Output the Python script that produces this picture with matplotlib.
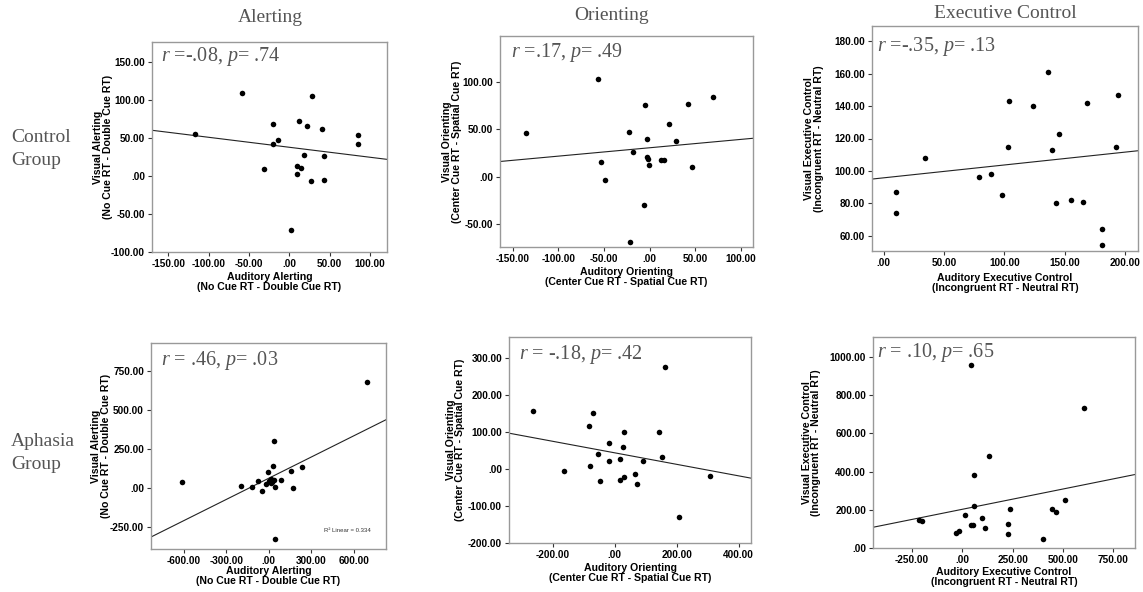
"""
Auditory vs visual ANT scores, control and aphasia groups (2 x 3 scatter grid).
Output: out.png
"""
import matplotlib
matplotlib.use("Agg")
import matplotlib.pyplot as plt
import numpy as np
from matplotlib.ticker import FuncFormatter

plt.rcParams["mathtext.fontset"] = "custom"
plt.rcParams["mathtext.rm"] = "Liberation Serif"
plt.rcParams["mathtext.it"] = "Liberation Serif:italic"

W, H = 1143, 592

# ── Data ──────────────────────────────────────────────────────────────────────
ctrl_alert_x = [-117, -59, -20, -14, -20, -31, 12, 28, 22, 40, 18, 43, 10, 15, 10, 27, 43, 85, 85, 2]
ctrl_alert_y = [55, 110, 69, 48, 42, 9, 73, 105, 66, 62, 28, 27, 13, 10, 2, -7, -5, 54, 42, -71]

ctrl_orient_x = [-57, -136, -23, -18, -53, -49, -5, -3, -3, -2, -1, -6, -21, 21, 29, 13, 16, 42, 47, 70]
ctrl_orient_y = [103, 46, 47, 26, 15, -4, 75, 40, 21, 19, 12, -30, -69, 55, 38, 18, 18, 76, 10, 84]

ctrl_exec_x = [10, 10, 34, 79, 89, 98, 104, 103, 124, 136, 139, 145, 143, 155, 165, 168, 181, 181, 192, 194]
ctrl_exec_y = [87, 74, 108, 96, 98, 85, 143, 115, 140, 161, 113, 123, 80, 82, 81, 142, 64, 54, 115, 147]

aph_alert_x = [-614, -195, -118, -75, -47, -7, -21, 2, 14, 24, 16, 33, 38, 40, 45, 42, 89, 155, 172, 238, 697]
aph_alert_y = [39, 11, 5, 43, -17, 101, 28, 48, 58, 41, 30, 144, 305, 50, 7, -327, 54, 108, -2, 135, 682]

aph_orient_x = [-264, -165, -84, -69, -80, -54, -48, -19, -18, 16, 18, 27, 31, 31, 66, 72, 92, 143, 152, 161, 209, 308]
aph_orient_y = [156, -5, 117, 150, 7, 40, -34, 69, 21, -30, 27, 58, 101, -21, -14, -40, 21, 99, 31, 275, -130, -19]

aph_exec_x = [45, 607, 130, 58, 58, 12, -215, -199, -34, -16, 42, 55, 98, 115, 229, 238, 228, 402, 445, 463, 510]
aph_exec_y = [960, 732, 481, 384, 219, 174, 147, 140, 79, 88, 118, 121, 156, 102, 123, 202, 72, 47, 202, 188, 249]

# fit lines as drawn (intercept, slope)
fit_intercept = [37.9, 30.4, 95.7, 63.3, 43.3, 201.5]
fit_slope = [-0.132, 0.088, 0.0795, 0.454, -0.156, 0.213]

stats_text = [r"$r$ =-.08, $p$= .74", r"$r$ =.17, $p$= .49", r"$r$ =-.35, $p$= .13",
              r"$r$ = .46, $p$= .03", r"$r$ = -.18, $p$= .42", r"$r$ = .10, $p$= .65"]

xlabels = ["Auditory Alerting\n(No Cue RT - Double Cue RT)",
           "Auditory Orienting\n(Center Cue RT - Spatial Cue RT)",
           "Auditory Executive Control\n(Incongruent RT - Neutral RT)"]
ylabels = ["Visual Alerting\n(No Cue RT - Double Cue RT)",
           "Visual Orienting\n(Center Cue RT - Spatial Cue RT)",
           "Visual Executive Control\n(Incongruent RT - Neutral RT)"]
col_titles = ["Alerting", "Orienting", "Executive Control"]
row_titles = ["Control\nGroup", "Aphasia\nGroup"]

xs = [ctrl_alert_x, ctrl_orient_x, ctrl_exec_x, aph_alert_x, aph_orient_x, aph_exec_x]
ys = [ctrl_alert_y, ctrl_orient_y, ctrl_exec_y, aph_alert_y, aph_orient_y, aph_exec_y]

# ── Layout (pixel boxes: left, top, right, bottom) ───────────────────────────
boxes = [(152, 42, 387, 252), (500, 36, 753, 247), (872, 26, 1138, 251),
         (151, 343, 386, 549), (509, 337, 751, 543), (873, 337, 1135, 548)]
xlims = [(-170, 121), (-164, 113.5), (-9.6, 210.5), (-831, 828), (-341, 440), (-444, 858)]
ylims = [(-100.5, 177), (-74, 148), (50.5, 189.5), (-391, 932), (-201, 357), (-2, 1107)]
xticks = [np.arange(-150, 101, 50), np.arange(-150, 101, 50), np.arange(0, 201, 50),
          np.arange(-600, 601, 300), np.arange(-200, 401, 200), np.arange(-250, 751, 250)]
yticks = [np.arange(-100, 151, 50), np.arange(-50, 101, 50), np.arange(60, 181, 20),
          np.arange(-250, 751, 250), np.arange(-200, 301, 100), np.arange(0, 1001, 200)]
ylab_x = [-0.166, -0.150, -0.182, -0.170, -0.180, -0.197]
xlab_y = [-0.097, -0.095, -0.099, -0.084, -0.097, -0.090]
stat_pos = [(161, 57), (511, 52), (877, 47), (161, 360), (519, 355), (877, 353)]

TEXT_GRAY = "#555555"
SANS = "Liberation Sans"
SERIF = "Liberation Serif"


def spss_fmt(v, pos):
    if abs(v) < 1e-9:
        return ".00"
    return f"{v:.2f}"


fig = plt.figure(figsize=(W / 100, H / 100), dpi=100)
fig.patch.set_facecolor("white")

for i in range(6):
    l, t, r, b = boxes[i]
    ax = fig.add_axes([l / W, 1 - b / H, (r - l) / W, (b - t) / H])
    ax.scatter(xs[i], ys[i], s=16, color="black", zorder=3, linewidths=0)
    xx = np.array(xlims[i])
    ax.plot(xx, fit_intercept[i] + fit_slope[i] * xx, color="#222222", lw=0.8, zorder=2)
    ax.set_xlim(xlims[i])
    ax.set_ylim(ylims[i])
    ax.set_xticks(xticks[i])
    ax.set_yticks(yticks[i])
    ax.xaxis.set_major_formatter(FuncFormatter(spss_fmt))
    ax.yaxis.set_major_formatter(FuncFormatter(spss_fmt))
    ax.tick_params(direction="out", length=3, width=0.8, color="#333333", pad=2)
    for lab in ax.get_xticklabels() + ax.get_yticklabels():
        lab.set_fontfamily(SANS)
        lab.set_fontweight("bold")
        lab.set_fontsize(7.2)
    for sp in ax.spines.values():
        sp.set_color("#999999")
        sp.set_linewidth(1.0)
    ax.set_xlabel(xlabels[i % 3], fontfamily=SANS, fontweight="bold", fontsize=7.6,
                  linespacing=0.95)
    ax.set_ylabel(ylabels[i % 3], fontfamily=SANS, fontweight="bold", fontsize=7.6,
                  linespacing=0.95)
    ax.xaxis.set_label_coords(0.5, xlab_y[i])
    ax.yaxis.set_label_coords(ylab_x[i], 0.5)

    sx, sy = stat_pos[i]
    fig.text(sx / W, 1 - sy / H, stats_text[i], fontfamily=SERIF, fontsize=14.5,
             color=TEXT_GRAY, ha="left", va="center")

    if i == 3:
        ax.text(0.737, 0.089, "R² Linear = 0.334", transform=ax.transAxes,
                fontfamily=SANS, fontsize=4.3, color="#333333", va="center")

# column and row titles
for x_c, y_c, title in zip([270, 612, 1005], [17, 16, 13], col_titles):
    fig.text(x_c / W, 1 - y_c / H, title, fontfamily=SERIF, fontsize=14,
             color=TEXT_GRAY, ha="center", va="center")
for y_c, title in zip([149, 453], row_titles):
    fig.text(11 / W, 1 - y_c / H, title, fontfamily=SERIF, fontsize=14,
             color=TEXT_GRAY, ha="left", va="center", linespacing=1.4)

fig.savefig("out.png", dpi=100, facecolor="white")
